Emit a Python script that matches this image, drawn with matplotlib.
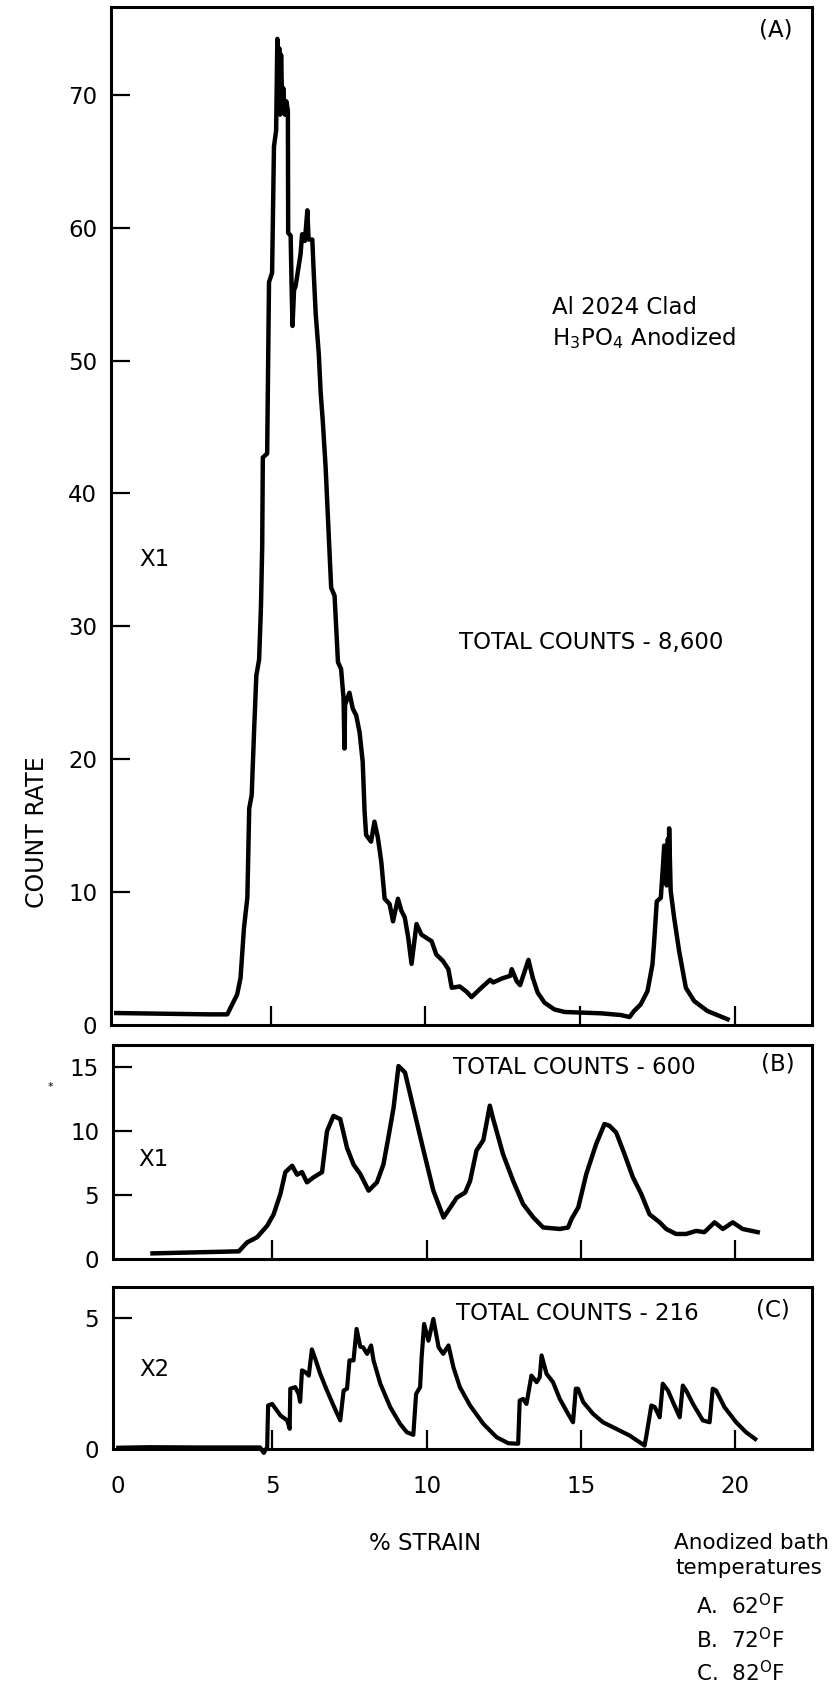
import matplotlib
matplotlib.use('Agg')
import matplotlib.pyplot as plt

# ---------------------------------------------------------------------------
# Acoustic emission count rate vs % strain, Al 2024 clad, H3PO4 anodized
# three bath temperatures (A) 62F, (B) 72F, (C) 82F
# ---------------------------------------------------------------------------

# panel A : 62 F bath, total counts 8,600
strainA = [0.00, 1.50, 3.00, 3.59, 3.75, 3.91, 4.02, 4.13, 4.24, 4.30,
           4.38, 4.46, 4.53, 4.62, 4.68, 4.72, 4.74, 4.88, 4.94, 5.04,
           5.10, 5.17, 5.21, 5.24, 5.27, 5.30, 5.33, 5.37, 5.40, 5.45, 5.50, 5.55, 5.56, 5.64,
           5.67, 5.70, 5.75, 5.80, 5.96, 6.01, 6.10, 6.18, 6.22, 6.34,
           6.39, 6.45, 6.55, 6.61, 6.68, 6.77, 6.88, 6.95, 7.06, 7.17,
           7.27, 7.35, 7.38, 7.40, 7.54, 7.65, 7.76, 7.87, 7.97, 8.03,
           8.08, 8.24, 8.35, 8.46, 8.57, 8.68, 8.84, 8.95, 9.11, 9.22,
           9.33, 9.44, 9.55, 9.71, 9.87, 10.20, 10.35, 10.46, 10.57, 10.74,
           10.85, 11.11, 11.33, 11.49, 11.76, 12.09, 12.19, 12.47, 12.74, 12.79,
           12.95, 13.06, 13.33, 13.47, 13.63, 13.85, 14.17, 14.50, 15.04, 15.67,
           16.32, 16.60, 16.74, 16.96, 17.18, 17.34, 17.39, 17.48,
           17.61, 17.67, 17.72, 17.75, 17.77, 17.80, 17.84, 17.86, 17.88, 17.93,
           18.04, 18.20, 18.42, 18.69, 19.12, 19.77]
countA = [0.90, 0.85, 0.80, 0.80, 1.55, 2.30, 3.55, 7.30, 9.60, 16.3,
          17.3, 22.3, 26.3, 27.5, 31.5, 36.0, 42.7, 43.0, 55.9, 56.6,
          66.1, 67.3, 74.2, 69.0, 73.5, 68.5, 73.0, 69.0, 70.5, 68.5, 69.5, 68.8, 59.6, 59.4,
          55.6, 52.6, 55.3, 55.6, 58.0, 59.5, 59.0, 61.3, 59.1, 59.1,
          56.4, 53.5, 50.5, 47.6, 45.4, 42.0, 36.5, 32.9, 32.3, 27.3,
          26.8, 24.6, 20.8, 24.1, 25.0, 23.8, 23.3, 22.0, 19.8, 16.1,
          14.3, 13.8, 15.3, 14.1, 12.3, 9.5, 9.1, 7.8, 9.5, 8.6,
          8.1, 6.6, 4.6, 7.6, 6.8, 6.3, 5.3, 5.06, 4.8, 4.2,
          2.8, 2.9, 2.5, 2.1, 2.7, 3.4, 3.2, 3.5, 3.7, 4.2,
          3.3, 3.0, 4.9, 3.55, 2.43, 1.68, 1.17, 0.98, 0.93, 0.88,
          0.75, 0.6, 1.04, 1.55, 2.55, 4.55, 6.07, 9.3,
          9.57, 11.6, 13.5, 10.8, 13.1, 10.5, 14.0, 11.0, 14.8, 10.1,
          8.1, 5.6, 2.8, 1.8, 1.05, 0.43]

# panel B : 72 F bath, total counts 600
strainB = [1.11, 3.91, 4.18, 4.50, 4.83, 5.04, 5.26, 5.42, 5.64, 5.80,
           5.96, 6.12, 6.34, 6.61, 6.77, 6.98, 7.20, 7.42, 7.63, 7.85,
           8.12, 8.39, 8.60, 8.76, 8.93, 9.09, 9.30, 9.57, 9.90, 10.22,
           10.55, 10.76, 10.98, 11.25, 11.41, 11.62, 11.84, 11.95, 12.05, 12.16,
           12.48, 12.81, 13.13, 13.46, 13.78, 14.32, 14.59, 14.70, 14.92, 15.18,
           15.50, 15.77, 15.93, 16.15, 16.42, 16.69, 16.96, 17.23, 17.56, 17.77,
           18.09, 18.42, 18.74, 19.01, 19.34, 19.61, 19.93, 20.25, 20.74]
countB = [0.44, 0.60, 1.30, 1.70, 2.60, 3.50, 5.10, 6.80, 7.30, 6.60,
          6.80, 6.00, 6.40, 6.80, 10.0, 11.2, 10.95, 8.70, 7.40, 6.65,
          5.35, 6.00, 7.40, 9.50, 11.85, 15.1, 14.6, 11.85, 8.50, 5.35,
          3.25, 4.00, 4.80, 5.20, 6.10, 8.50, 9.30, 10.7, 12.0, 10.96,
          8.20, 6.10, 4.30, 3.26, 2.47, 2.35, 2.47, 3.13, 4.04, 6.65,
          9.00, 10.56, 10.43, 9.90, 8.20, 6.40, 5.10, 3.50, 2.87, 2.35,
          1.96, 1.96, 2.20, 2.10, 2.87, 2.35, 2.87, 2.35, 2.10]

# panel C : 82 F bath, total counts 216
strainC = [0.00, 1.00, 2.50, 4.60, 4.72, 4.83, 4.86, 4.99, 5.26, 5.48,
           5.56, 5.58, 5.74, 5.85, 5.90, 5.96, 6.07, 6.18, 6.28, 6.39,
           6.55, 6.77, 6.98, 7.20, 7.31, 7.42, 7.50, 7.63, 7.73, 7.85,
           7.94, 8.07, 8.20, 8.28, 8.50, 8.82, 9.14, 9.36, 9.57, 9.66,
           9.79, 9.84, 9.92, 10.06, 10.22, 10.39, 10.54, 10.71, 10.87, 11.08,
           11.41, 11.84, 12.27, 12.65, 12.97, 13.02, 13.13, 13.24, 13.40, 13.57,
           13.67, 13.73, 13.89, 14.10, 14.32, 14.59, 14.75, 14.84, 14.91, 15.08,
           15.40, 15.72, 16.15, 16.59, 17.07, 17.12, 17.29, 17.40, 17.56, 17.66,
           17.83, 17.99, 18.21, 18.31, 18.42, 18.64, 18.96, 19.18, 19.28, 19.39,
           19.66, 20.04, 20.36, 20.66]
countC = [0.05, 0.07, 0.06, 0.06, -0.15, 0.07, 1.66, 1.72, 1.28, 1.09,
          0.77, 2.30, 2.36, 2.10, 1.80, 3.00, 2.93, 2.80, 3.80, 3.44,
          2.87, 2.23, 1.66, 1.09, 2.23, 2.30, 3.38, 3.38, 4.58, 3.90,
          3.88, 3.63, 3.95, 3.38, 2.49, 1.60, 0.96, 0.64, 0.54, 2.10,
          2.36, 3.50, 4.77, 4.13, 4.96, 3.88, 3.63, 3.95, 3.12, 2.36,
          1.66, 0.96, 0.45, 0.22, 0.20, 1.85, 1.91, 1.72, 2.80, 2.55,
          2.74, 3.57, 2.87, 2.55, 1.91, 1.34, 1.02, 2.30, 2.30, 1.79,
          1.34, 1.02, 0.77, 0.51, 0.13, 0.45, 1.66, 1.60, 1.21, 2.49,
          2.23, 1.79, 1.21, 2.42, 2.23, 1.72, 1.09, 1.02, 2.30, 2.23,
          1.60, 1.02, 0.64, 0.38]

xTicks = [0, 5, 10, 15, 20]
yTicksA = [0, 10, 20, 30, 40, 50, 60, 70]
yTicksB = [0, 5, 10, 15]
yTicksC = [0, 5]
bathTemps = ['A.  62$^{\\mathrm{O}}$F', 'B.  72$^{\\mathrm{O}}$F', 'C.  82$^{\\mathrm{O}}$F']

W, H = 836.0, 1691.0
FS = 16.5


def box(left, top, right, bottom):
   # pixel box (from top-left) -> figure fraction rect
   return [left / W, 1 - bottom / H, (right - left) / W, (bottom - top) / H]


def ftext(fig, x, y, s, **kw):
   fig.text(x / W, 1 - y / H, s, **kw)


def styleAxes(ax, ylim, yticks, showX):
   ax.set_xlim(-0.17, 22.5)
   ax.set_ylim(*ylim)
   ax.set_xticks(xTicks)
   ax.set_yticks(yticks)
   ax.tick_params(direction='in', length=14, width=1.6, labelsize=FS, pad=10)
   ax.tick_params(axis='x', pad=19, labelbottom=showX)
   ax.xaxis.get_major_ticks()[0].tick1line.set_visible(False)
   ax.yaxis.get_major_ticks()[0].tick1line.set_visible(False)
   for s in ax.spines.values():
      s.set_linewidth(2.2)


def plotStrain(outFig):
   plt.rcParams['mathtext.default'] = 'regular'
   fig = plt.figure(figsize=(W / 100, H / 100), dpi=100)

   axA = fig.add_axes(box(111, 7, 812, 1025))
   axB = fig.add_axes(box(113, 1045, 812, 1259))
   axC = fig.add_axes(box(113, 1287, 812, 1449))

   axA.plot(strainA, countA, color='black', lw=3.2, solid_joinstyle='round')
   axB.plot(strainB, countB, color='black', lw=3.2, solid_joinstyle='round')
   axC.plot(strainC, countC, color='black', lw=3.0, solid_joinstyle='round', clip_on=False)

   styleAxes(axA, (0, 76.6), yTicksA, False)
   styleAxes(axB, (0, 16.75), yTicksB, False)
   styleAxes(axC, (0, 6.18), yTicksC, True)

   # panel annotations
   ftext(fig, 776, 30, '(A)', fontsize=FS, ha='center', va='center')
   ftext(fig, 552, 307, 'Al 2024 Clad', fontsize=FS, va='center')
   ftext(fig, 552, 338, 'H$_3$PO$_4$ Anodized', fontsize=FS, va='center')
   ftext(fig, 139, 560, 'X1', fontsize=FS, va='center')
   ftext(fig, 459, 643, 'TOTAL COUNTS - 8,600', fontsize=FS, va='center')

   ftext(fig, 453, 1067, 'TOTAL COUNTS - 600', fontsize=FS, va='center')
   ftext(fig, 778, 1064, '(B)', fontsize=FS, ha='center', va='center')
   ftext(fig, 138, 1160, 'X1', fontsize=FS, va='center')
   ftext(fig, 50, 1087, '*', fontsize=8, ha='center', va='center')

   ftext(fig, 456, 1313, 'TOTAL COUNTS - 216', fontsize=FS, va='center')
   ftext(fig, 773, 1310, '(C)', fontsize=FS, ha='center', va='center')
   ftext(fig, 139, 1370, 'X2', fontsize=FS, va='center')

   ftext(fig, 37, 832, 'COUNT RATE', fontsize=17, rotation=90, ha='center', va='center')
   ftext(fig, 425, 1543, '% STRAIN', fontsize=FS, ha='center', va='center')

   ftext(fig, 674, 1543, 'Anodized bath', fontsize=15.5, va='center')
   ftext(fig, 675, 1568, 'temperatures', fontsize=15.5, va='center')
   for i, t in enumerate(bathTemps):
      ftext(fig, 696, 1606 + 33.5 * i, t, fontsize=15.5, va='center')

   plt.savefig(outFig, dpi=100)
   return


def main():
   plotStrain('out.png')


if __name__ == '__main__':
   main()
